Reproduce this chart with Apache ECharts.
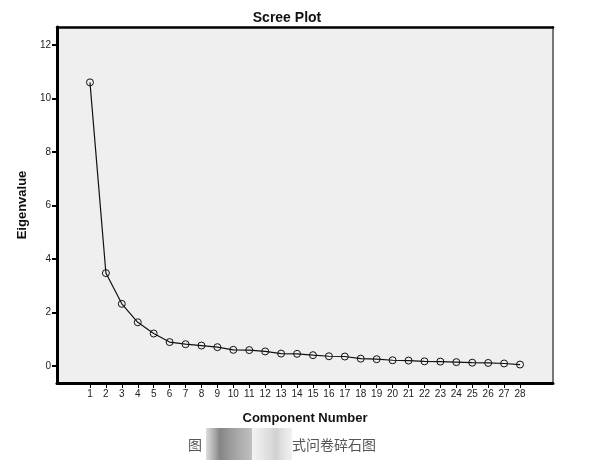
<!DOCTYPE html>
<html><head><meta charset="utf-8">
<script src="https://cdn.jsdelivr.net/npm/echarts@6/dist/echarts.min.js"></script>
<style>html,body{margin:0;padding:0;background:#fff}#c{width:597px;height:460px}</style>
</head><body><div id="c"></div>
<script>
const components = [1,2,3,4,5,6,7,8,9,10,11,12,13,14,15,16,17,18,19,20,21,22,23,24,25,26,27,28];
const eigenvalues = [10.6,3.47,2.32,1.63,1.21,0.89,0.81,0.76,0.70,0.60,0.59,0.54,0.46,0.45,0.40,0.36,0.35,0.27,0.25,0.21,0.20,0.17,0.16,0.14,0.12,0.11,0.09,0.05];
const yTicks = [0,2,4,6,8,10,12];
const titleText = 'Scree Plot';
const xName = 'Component Number';
const yName = 'Eigenvalue';

const chart = echarts.init(document.getElementById('c'));
const F = 'Liberation Sans, Arial, sans-serif';
chart.setOption({
  animation: false,
  title: { text: titleText, left: 282, top: 6, textAlign: 'center',
    textStyle: { fontFamily: F, fontWeight: 'bold', fontSize: 14, color: '#111' } },
  grid: { left: 57, top: 27, width: 496, height: 356, show: true,
    backgroundColor: '#efefef', borderWidth: 0 },
  xAxis: [{
    type: 'value', min: -1.07, max: 30.07, position: 'bottom',
    name: xName, nameLocation: 'middle', nameGap: 29,
    nameTextStyle: { fontFamily: F, fontWeight: 'bold', fontSize: 13, color: '#111' },
    axisLine: { show: true, onZero: false, lineStyle: { color: '#000', width: 3 } },
    axisTick: { show: true, customValues: components, length: 5, lineStyle: { color: '#000', width: 1 } },
    axisLabel: { customValues: components, fontFamily: F, fontSize: 10, color: '#222', margin: 6 },
    splitLine: { show: false }
  }, {
    type: 'value', min: -1.07, max: 30.07, position: 'top',
    axisLine: { show: true, onZero: false, lineStyle: { color: '#000', width: 2.5 } },
    axisTick: { show: false }, axisLabel: { show: false }, splitLine: { show: false }
  }],
  yAxis: [{
    type: 'value', min: -0.64, max: 12.67, position: 'left',
    name: yName, nameLocation: 'middle', nameGap: 25, nameRotate: 90,
    nameTextStyle: { fontFamily: F, fontWeight: 'bold', fontSize: 13, color: '#111' },
    axisLine: { show: true, onZero: false, lineStyle: { color: '#000', width: 3 } },
    axisTick: { show: true, customValues: yTicks, length: 5, lineStyle: { color: '#000', width: 2 } },
    axisLabel: { customValues: yTicks, fontFamily: F, fontSize: 10, color: '#222', margin: 6 },
    splitLine: { show: false }
  }, {
    type: 'value', min: -0.64, max: 12.67, position: 'right',
    axisLine: { show: true, onZero: false, lineStyle: { color: '#777', width: 2 } },
    axisTick: { show: false }, axisLabel: { show: false }, splitLine: { show: false }
  }],
  graphic: [
    { type: 'rect', left: 206, top: 428, shape: { width: 46, height: 32 },
      style: { fill: new echarts.graphic.LinearGradient(0,0,1,0,[{offset:0,color:'rgba(140,140,140,0.3)'},{offset:0.3,color:'rgba(120,120,120,0.9)'},{offset:1,color:'rgba(150,150,150,0.6)'}]) } },
    { type: 'rect', left: 252, top: 428, shape: { width: 40, height: 32 },
      style: { fill: new echarts.graphic.LinearGradient(0,0,1,0,[{offset:0,color:'rgba(230,230,230,0.5)'},{offset:0.6,color:'rgba(190,190,190,0.7)'},{offset:1,color:'rgba(220,220,220,0.4)'}]) } },
    { type: 'text', left: 188, top: 438, style: { text: '图', font: '14px "Noto Sans CJK SC"', fill: '#555' } },
    { type: 'text', left: 292, top: 438, style: { text: '式问卷碎石图', font: '14px "Noto Sans CJK SC"', fill: '#555' } }
  ],
  series: [{
    type: 'line', xAxisIndex: 0, yAxisIndex: 0,
    data: components.map((c, i) => [c, eigenvalues[i]]),
    symbol: 'circle', symbolSize: 7,
    itemStyle: { color: 'rgba(0,0,0,0)', borderColor: '#111', borderWidth: 1 },
    lineStyle: { color: '#111', width: 1.2 }
  }]
});
</script></body></html>
